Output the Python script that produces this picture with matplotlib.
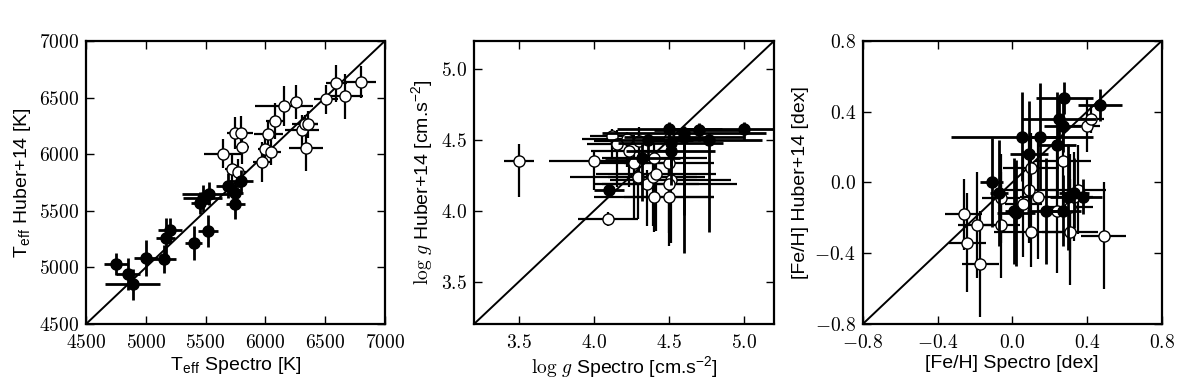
import matplotlib
matplotlib.use('Agg')
import matplotlib.pyplot as plt
from matplotlib.ticker import FuncFormatter

plt.rcParams['font.family'] = ['Liberation Sans', 'DejaVu Sans']
plt.rcParams['mathtext.fontset'] = 'cm'

# --- Teff panel: filled and open symbols ---
teff_s_fill = [4750, 4850, 4890, 5000, 5150, 5165, 5200, 5400, 5455, 5475, 5525, 5520, 5685, 5750, 5750, 5800]
teff_h_fill = [5030, 4940, 4850, 5085, 5075, 5260, 5330, 5215, 5570, 5610, 5650, 5320, 5720, 5655, 5560, 5760]
teff_sx_fill = [100, 100, 230, 100, 100, 80, 100, 70, 80, 160, 220, 80, 100, 60, 80, 100]
teff_hy_fill = [100, 140, 140, 160, 120, 180, 110, 150, 100, 120, 100, 140, 110, 100, 130, 100]

teff_s_open = [5650, 5725, 5775, 5750, 5800, 5805, 5970, 5995, 6025, 6050, 6085, 6155, 6255, 6305, 6330, 6360, 6340, 6510, 6595, 6665, 6800]
teff_h_open = [6005, 5865, 5840, 6190, 6185, 6060, 5930, 6050, 6175, 6015, 6290, 6425, 6460, 6210, 6270, 6265, 6055, 6485, 6625, 6510, 6635]
teff_sx_open = [160, 60, 60, 70, 100, 60, 70, 60, 120, 80, 80, 240, 50, 140, 110, 80, 140, 100, 90, 150, 130]
teff_hy_open = [130, 130, 120, 140, 150, 150, 180, 120, 120, 110, 160, 180, 150, 140, 80, 120, 200, 130, 160, 200, 140]

# --- log g panel (asymmetric Huber errors) ---
logg_s_fill = [4.10, 4.32, 4.36, 4.50, 4.51, 4.51, 4.60, 4.60, 4.70, 4.77, 5.00]
logg_h_fill = [4.15, 4.37, 4.50, 4.58, 4.42, 4.48, 4.55, 4.52, 4.57, 4.50, 4.58]
logg_sx_fill = [0.10, 0.25, 0.30, 0.35, 0.30, 0.35, 0.55, 0.40, 0.30, 0.35, 0.50]
logg_hy_lo_fill = [0.04, 0.30, 0.15, 0.10, 0.10, 0.30, 0.85, 0.55, 0.08, 0.65, 0.08]
logg_hy_hi_fill = [0.04, 0.10, 0.05, 0.05, 0.10, 0.05, 0.05, 0.05, 0.05, 0.05, 0.05]

logg_s_open = [3.50, 4.00, 4.09, 4.12, 4.15, 4.22, 4.23, 4.30, 4.27, 4.29, 4.35, 4.39, 4.40, 4.41, 4.40, 4.50, 4.50, 4.51, 4.50, 4.50]
logg_h_open = [4.35, 4.35, 3.94, 4.53, 4.47, 4.51, 4.42, 4.49, 4.34, 4.24, 4.19, 4.24, 4.37, 4.26, 4.10, 4.51, 4.34, 4.22, 4.19, 4.10]
logg_sx_open = [0.10, 0.30, 0.20, 0.15, 0.20, 0.30, 0.25, 0.30, 0.25, 0.45, 0.35, 0.30, 0.35, 0.40, 0.40, 0.30, 0.30, 0.40, 0.45, 0.30]
logg_hy_lo_open = [0.25, 0.20, 0.05, 0.15, 0.30, 0.20, 0.25, 0.30, 0.40, 0.30, 0.30, 0.35, 0.25, 0.40, 0.25, 0.25, 0.20, 0.45, 0.35, 0.35]
logg_hy_hi_open = [0.12, 0.08, 0.05, 0.05, 0.10, 0.05, 0.10, 0.10, 0.10, 0.10, 0.10, 0.10, 0.10, 0.10, 0.10, 0.05, 0.10, 0.10, 0.10, 0.10]

# --- [Fe/H] panel ---
feh_s_fill = [0.28, 0.47, 0.25, 0.27, 0.05, 0.15, 0.24, 0.09, -0.11, -0.07, 0.01, 0.02, 0.18, 0.27, 0.30, 0.33, 0.38]
feh_h_fill = [0.48, 0.44, 0.36, 0.32, 0.26, 0.26, 0.21, 0.16, 0.00, -0.06, -0.16, -0.17, -0.16, -0.16, -0.08, -0.06, -0.08]
feh_sx_fill = [0.15, 0.12, 0.20, 0.10, 0.38, 0.10, 0.10, 0.10, 0.06, 0.05, 0.05, 0.10, 0.10, 0.10, 0.10, 0.08, 0.10]
feh_hy_fill = [0.09, 0.09, 0.12, 0.15, 0.25, 0.30, 0.30, 0.30, 0.25, 0.30, 0.30, 0.30, 0.30, 0.20, 0.30, 0.20, 0.10]

feh_s_open = [-0.26, -0.24, -0.19, -0.17, -0.06, -0.06, 0.06, 0.10, 0.09, 0.10, 0.14, 0.24, 0.27, 0.31, 0.31, 0.33, 0.35, 0.40, 0.42, 0.49]
feh_h_open = [-0.18, -0.34, -0.24, -0.46, -0.09, -0.24, -0.12, 0.08, -0.04, -0.28, -0.08, -0.16, 0.12, -0.14, -0.28, -0.08, -0.04, 0.32, 0.36, -0.30]
feh_sx_open = [0.10, 0.10, 0.10, 0.10, 0.10, 0.10, 0.10, 0.15, 0.15, 0.20, 0.10, 0.10, 0.15, 0.12, 0.15, 0.10, 0.15, 0.07, 0.07, 0.12]
feh_hy_open = [0.20, 0.28, 0.30, 0.30, 0.25, 0.30, 0.30, 0.20, 0.30, 0.20, 0.35, 0.35, 0.25, 0.30, 0.30, 0.25, 0.25, 0.15, 0.08, 0.30]

fig = plt.figure(figsize=(12, 3.83), dpi=100)
ax1 = fig.add_axes([0.0717, 0.154, 0.249, 0.739])
ax2 = fig.add_axes([0.395, 0.154, 0.250, 0.739])
ax3 = fig.add_axes([0.719, 0.154, 0.249, 0.739])


def draw(ax, xs_f, ys_f, ex_f, ey_f, xs_o, ys_o, ex_o, ey_o, lim):
    ax.plot(lim, lim, color='k', lw=1.4, zorder=1)
    ax.errorbar(xs_f, ys_f, xerr=ex_f, yerr=ey_f, fmt='o', color='k', mfc='k', mec='k',
                ms=8, elinewidth=2.0, capsize=0, zorder=3)
    ax.errorbar(xs_o, ys_o, xerr=ex_o, yerr=ey_o, fmt='o', color='k', mfc='white', mec='k',
                ms=8, mew=1.0, elinewidth=1.6, capsize=0, zorder=2)
    ax.set_xlim(lim)
    ax.set_ylim(lim)
    ax.tick_params(direction='in', top=True, right=True, length=6, width=1, labelsize=14)
    ax.tick_params(axis='x', pad=7)
    ax.tick_params(axis='y', pad=5)
    for s in ax.spines.values():
        s.set_linewidth(1.6)


draw(ax1, teff_s_fill, teff_h_fill, teff_sx_fill, teff_hy_fill,
     teff_s_open, teff_h_open, teff_sx_open, teff_hy_open, [4500, 7000])
ax1.set_xticks([4500, 5000, 5500, 6000, 6500, 7000])
ax1.set_yticks([4500, 5000, 5500, 6000, 6500, 7000])
fmt_int = FuncFormatter(lambda v, p: '$%d$' % v)
ax1.xaxis.set_major_formatter(fmt_int)
ax1.yaxis.set_major_formatter(fmt_int)
ax1.set_xlabel(r'T$_\mathregular{eff}$ Spectro [K]', fontsize=14, labelpad=2)
ax1.set_ylabel(r'T$_\mathregular{eff}$ Huber+14 [K]', fontsize=14)

draw(ax2, logg_s_fill, logg_h_fill, logg_sx_fill, [logg_hy_lo_fill, logg_hy_hi_fill],
     logg_s_open, logg_h_open, logg_sx_open, [logg_hy_lo_open, logg_hy_hi_open], [3.2, 5.2])
ax2.set_xticks([3.5, 4.0, 4.5, 5.0])
ax2.set_yticks([3.5, 4.0, 4.5, 5.0])
fmt_1 = FuncFormatter(lambda v, p: '$%.1f$' % v)
ax2.xaxis.set_major_formatter(fmt_1)
ax2.yaxis.set_major_formatter(fmt_1)
ax2.set_xlabel(r'$\log\,g$ Spectro [cm.s$\mathregular{^{-2}}$]', fontsize=14, labelpad=2)
ax2.set_ylabel(r'$\log\,g$ Huber+14 [cm.s$\mathregular{^{-2}}$]', fontsize=14)

draw(ax3, feh_s_fill, feh_h_fill, feh_sx_fill, feh_hy_fill,
     feh_s_open, feh_h_open, feh_sx_open, feh_hy_open, [-0.8, 0.8])
ax3.set_xticks([-0.8, -0.4, 0.0, 0.4, 0.8])
ax3.set_yticks([-0.8, -0.4, 0.0, 0.4, 0.8])
ax3.xaxis.set_major_formatter(fmt_1)
ax3.yaxis.set_major_formatter(fmt_1)
ax3.set_xlabel('[Fe/H] Spectro [dex]', fontsize=14, labelpad=2)
ax3.set_ylabel('[Fe/H] Huber+14 [dex]', fontsize=14)

fig.savefig('out.png', dpi=100)
